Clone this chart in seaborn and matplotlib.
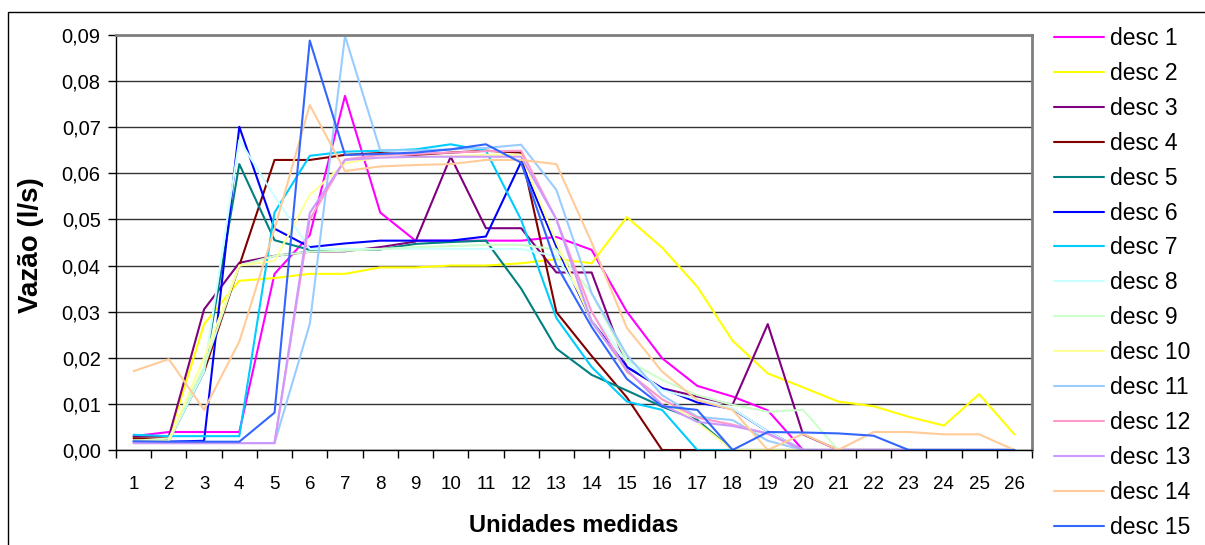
# ============================================================
# Loading packages
# ============================================================

import numpy as np
import pandas as pd
import seaborn as sns
import matplotlib.pyplot as plt
from matplotlib.patches import Rectangle
from matplotlib.ticker import FuncFormatter

# ============================================================
# Data
# ============================================================

units = list(range(1, 27))

desc1 = [0.0030, 0.0039, 0.0039, 0.0039, 0.0382, 0.0466, 0.0768, 0.0515, 0.0454, 0.0454, 0.0454, 0.0454, 0.0462,
         0.0434, 0.0300, 0.0199, 0.0139, 0.0116, 0.0086, 0.0, 0.0, 0.0, 0.0, 0.0, 0.0, 0.0]
desc2 = [0.0027, 0.0027, 0.0273, 0.0367, 0.0373, 0.0382, 0.0382, 0.0396, 0.0396, 0.0400, 0.0400, 0.0405, 0.0414,
         0.0405, 0.0505, 0.0439, 0.0354, 0.0237, 0.0166, 0.0136, 0.0105, 0.0095, 0.0072, 0.0053, 0.0121, 0.0034]
desc3 = [0.0029, 0.0029, 0.0305, 0.0406, 0.0421, 0.0430, 0.0431, 0.0440, 0.0452, 0.0636, 0.0481, 0.0481, 0.0385,
         0.0385, 0.0180, 0.0134, 0.0116, 0.0098, 0.0273, 0.0034, 0.0, 0.0, 0.0, 0.0, 0.0, 0.0]
desc4 = [0.0025, 0.0022, 0.0170, 0.0400, 0.0629, 0.0629, 0.0640, 0.0644, 0.0640, 0.0645, 0.0649, 0.0645, 0.0299,
         0.0204, 0.0114, 0.0, 0.0, 0.0, 0.0, 0.0, 0.0, 0.0, 0.0, 0.0, 0.0, 0.0]
desc5 = [0.0020, 0.0020, 0.0170, 0.0620, 0.0455, 0.0434, 0.0434, 0.0435, 0.0447, 0.0451, 0.0454, 0.0350, 0.0220,
         0.0163, 0.0129, 0.0094, 0.0065, 0.0, 0.0, 0.0, 0.0, 0.0, 0.0, 0.0, 0.0, 0.0]
desc6 = [0.0018, 0.0018, 0.0020, 0.0701, 0.0480, 0.0440, 0.0448, 0.0454, 0.0454, 0.0454, 0.0463, 0.0625, 0.0441,
         0.0280, 0.0180, 0.0134, 0.0103, 0.0089, 0.0040, 0.0, 0.0, 0.0, 0.0, 0.0, 0.0, 0.0]
desc7 = [0.0033, 0.0030, 0.0030, 0.0030, 0.0515, 0.0638, 0.0647, 0.0649, 0.0652, 0.0663, 0.0649, 0.0499, 0.0286,
         0.0180, 0.0105, 0.0087, 0.0, 0.0, 0.0, 0.0, 0.0, 0.0, 0.0, 0.0, 0.0, 0.0]
desc8 = [0.0020, 0.0020, 0.0170, 0.0672, 0.0550, 0.0436, 0.0436, 0.0436, 0.0436, 0.0436, 0.0436, 0.0436, 0.0420,
         0.0300, 0.0190, 0.0130, 0.0110, 0.0090, 0.0040, 0.0, 0.0, 0.0, 0.0, 0.0, 0.0, 0.0]
desc9 = [0.0020, 0.0025, 0.0180, 0.0400, 0.0421, 0.0430, 0.0432, 0.0436, 0.0440, 0.0442, 0.0445, 0.0445, 0.0435,
         0.0340, 0.0195, 0.0152, 0.0119, 0.0098, 0.0083, 0.0087, 0.0, 0.0, 0.0, 0.0, 0.0, 0.0]
desc10 = [0.0020, 0.0020, 0.0200, 0.0400, 0.0410, 0.0553, 0.0622, 0.0635, 0.0635, 0.0637, 0.0640, 0.0640, 0.0450,
          0.0280, 0.0170, 0.0110, 0.0060, 0.0, 0.0, 0.0, 0.0, 0.0, 0.0, 0.0, 0.0, 0.0]
desc11 = [0.0015, 0.0015, 0.0015, 0.0015, 0.0015, 0.0273, 0.0898, 0.0650, 0.0650, 0.0652, 0.0655, 0.0662, 0.0564,
          0.0340, 0.0206, 0.0119, 0.0072, 0.0065, 0.0020, 0.0, 0.0, 0.0, 0.0, 0.0, 0.0, 0.0]
desc12 = [0.0015, 0.0015, 0.0015, 0.0015, 0.0015, 0.0500, 0.0630, 0.0640, 0.0642, 0.0645, 0.0648, 0.0649, 0.0500,
          0.0300, 0.0170, 0.0110, 0.0070, 0.0055, 0.0035, 0.0, 0.0, 0.0, 0.0, 0.0, 0.0, 0.0]
desc13 = [0.0015, 0.0015, 0.0015, 0.0015, 0.0015, 0.0514, 0.0629, 0.0634, 0.0636, 0.0636, 0.0636, 0.0636, 0.0500,
          0.0278, 0.0174, 0.0098, 0.0061, 0.0052, 0.0036, 0.0, 0.0, 0.0, 0.0, 0.0, 0.0, 0.0]
desc14 = [0.0171, 0.0197, 0.0087, 0.0235, 0.0480, 0.0748, 0.0605, 0.0615, 0.0618, 0.0620, 0.0629, 0.0629, 0.0620,
          0.0450, 0.0265, 0.0170, 0.0108, 0.0087, 0.0, 0.0035, 0.0, 0.0039, 0.0039, 0.0034, 0.0034, 0.0]
desc15 = [0.0019, 0.0018, 0.0018, 0.0018, 0.0081, 0.0888, 0.0640, 0.0642, 0.0645, 0.0652, 0.0663, 0.0623, 0.0401,
          0.0267, 0.0154, 0.0095, 0.0087, 0.0, 0.0039, 0.0038, 0.0036, 0.0031, 0.0, 0.0, 0.0, 0.0]

series_names = ["desc 1", "desc 2", "desc 3", "desc 4", "desc 5", "desc 6", "desc 7", "desc 8",
                "desc 9", "desc 10", "desc 11", "desc 12", "desc 13", "desc 14", "desc 15"]
series_values = [desc1, desc2, desc3, desc4, desc5, desc6, desc7, desc8,
                 desc9, desc10, desc11, desc12, desc13, desc14, desc15]

# Excel 97-2003 default line colours
colors = ["#FF00FF", "#FFFF00", "#800080", "#800000", "#008080", "#0000FF", "#00CCFF", "#CCFFFF",
          "#CCFFCC", "#FFFF99", "#99CCFF", "#FF99CC", "#CC99FF", "#FFCC99", "#3366FF"]

# long format table for seaborn
wide = pd.DataFrame(dict(zip(series_names, series_values)), index=units)
wide.index.name = "Unidade"
df = wide.reset_index().melt(id_vars="Unidade", var_name="Serie", value_name="Vazao")

# ============================================================
# Plot
# ============================================================

sns.set_theme(style="white")
plt.rcParams["font.family"] = ["Liberation Sans", "DejaVu Sans"]
plt.rcParams["text.color"] = "black"
plt.rcParams["xtick.color"] = "black"
plt.rcParams["ytick.color"] = "black"

fig = plt.figure(figsize=(12.05, 5.45), dpi=100)
ax = fig.add_axes([116 / 1205, 1 - 450 / 545, 916 / 1205, 415 / 545])

sns.lineplot(data=df, x="Unidade", y="Vazao", hue="Serie", hue_order=series_names,
             palette=colors, linewidth=1.5, estimator=None, sort=False, ax=ax)

ax.set_xlim(0.5, 26.5)
ax.set_ylim(0, 0.09)
ax.set_xlabel("")
ax.set_ylabel("")

# horizontal grid
ax.set_yticks(np.arange(0, 0.0901, 0.01))
ax.yaxis.set_major_formatter(FuncFormatter(lambda v, p: f"{v:.2f}".replace(".", ",")))
ax.grid(axis="y", color="#333333", linewidth=1)
ax.set_axisbelow(True)

# category ticks between the points, labels at the points
ax.set_xticks(np.arange(0.5, 27, 1))
ax.set_xticklabels([])
ax.set_xticks(units, minor=True)
ax.set_xticklabels([str(u) for u in units], minor=True)
ax.tick_params(axis="x", which="major", direction="out", length=6, width=1, color="black", bottom=True)
ax.tick_params(axis="x", which="minor", length=0, pad=19, labelsize=13.5)
ax.tick_params(axis="y", direction="out", length=6, width=1, color="black", left=True, pad=5, labelsize=14.5)

for side in ["left", "bottom"]:
    ax.spines[side].set_color("black")
    ax.spines[side].set_linewidth(1)
for side in ["top", "right"]:
    ax.spines[side].set_color("#808080")
    ax.spines[side].set_linewidth(2)

# axis titles
fig.text(574 / 1205, 1 - 525 / 545, "Unidades medidas", ha="center", va="center",
         fontsize=17, fontweight="bold")
fig.text(31 / 1205, 1 - 245 / 545, "Vazão (l/s)", ha="center", va="center", rotation=90,
         fontsize=20, fontweight="bold")

# legend on the right
handles, labels = ax.get_legend_handles_labels()
ax.legend(handles, labels, loc="upper left", bbox_to_anchor=(1054 / 1205, 1 - 27 / 545),
          bbox_transform=fig.transFigure, frameon=False, fontsize=16.5, handlelength=2.18,
          handletextpad=0.26, borderpad=0, borderaxespad=0, labelspacing=0.52)

# outer chart frame
fig.add_artist(Rectangle((8 / 1205, -0.05), 1.2, 1.05 - 12 / 545, transform=fig.transFigure,
                         fill=False, edgecolor="black", linewidth=1))

fig.savefig("out.png", dpi=100)
